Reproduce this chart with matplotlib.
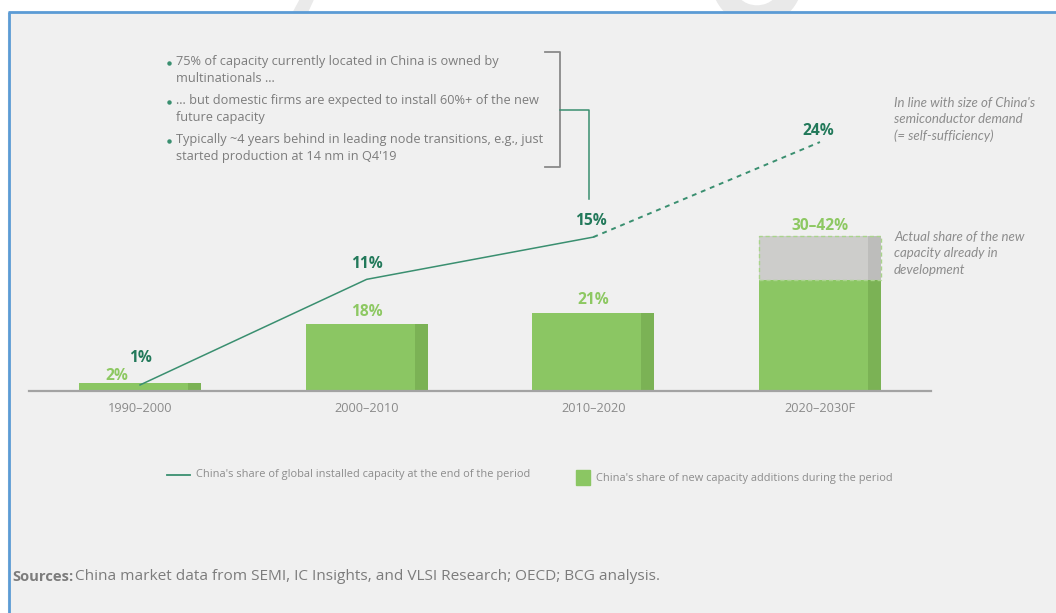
import matplotlib
matplotlib.use('Agg')
from matplotlib import pyplot as plt
from matplotlib.patches import Rectangle, Wedge, Polygon

# Periods on the x axis
periods: [str] = ['1990–2000', '2000–2010', '2010–2020', '2020–2030F']

# China's share of new capacity additions during the period (%)
new_share: [float] = [2, 18, 21, 30]
# Upper end of the forecast range for the last period (%)
new_share_high: float = 42
new_labels: [str] = ['2%', '18%', '21%', '30–42%']

# China's share of global installed capacity at the end of the period (%)
installed_share: [float] = [1, 11, 15, 24]
installed_labels: [str] = ['1%', '11%', '15%', '24%']

bullets: [[str]] = [
    ['75% of capacity currently located in China is owned by',
     'multinationals …'],
    ['… but domestic firms are expected to install 60%+ of the new',
     'future capacity'],
    ['Typically ~4 years behind in leading node transitions, e.g., just',
     "started production at 14 nm in Q4'19"],
]

note_top: [str] = ["In line with size of China's",
                   'semiconductor demand',
                   '(= self-sufficiency)']
note_bottom: [str] = ['Actual share of the new',
                      'capacity already in',
                      'development']

legend_line_text: str = "China's share of global installed capacity at the end of the period"
legend_bar_text: str = "China's share of new capacity additions during the period"
sources_text: str = 'China market data from SEMI, IC Insights, and VLSI Research; OECD; BCG analysis.'

# Colours
green = '#8bc663'
green_dark = '#7bb255'
grey_bar = '#cdcdcb'
grey_bar_dark = '#bdbdbb'
teal = '#3a8f70'
teal_text = '#22795a'
green_text = '#8dc862'
text_grey = '#7c7c7c'
note_grey = '#8c8c8c'
panel = '#f0f0f0'
border = '#5b9bd5'

W, H = 1056, 613
plt.rcParams['font.family'] = ['Open Sans', 'DejaVu Sans']

fig = plt.figure(figsize=(W / 100, H / 100), dpi=100)

# Full-figure layer in pixel coordinates for panel and annotations
bg = fig.add_axes([0, 0, 1, 1])
bg.set_xlim(0, W)
bg.set_ylim(H, 0)
bg.axis('off')

bg.add_patch(Wedge((757, -20), 45, 0, 360, width=19, color='#e9e9e9', zorder=0))
bg.add_patch(Polygon([(300, 0), (313, 0), (307, 13), (293, 13)], color='#eaeaea', zorder=0))
bg.add_patch(Rectangle((8, 12), W - 8, H - 12, color=panel, zorder=1))
bg.plot([8, W], [12, 12], color=border, lw=2, zorder=2, solid_capstyle='butt')
bg.plot([8.5, 8.5], [12, H], color=border, lw=2, zorder=2, solid_capstyle='butt')

# Bullet block with bracket
line_ys = [[62, 79], [100.7, 117], [140, 156.7]]
for lines, ys in zip(bullets, line_ys):
    bg.plot(168.5, ys[0] + 1, 'o', ms=2.2, color=teal, zorder=3)
    for txt, y in zip(lines, ys):
        bg.text(175.5, y, txt, fontsize=9.2, color=text_grey, va='center', ha='left', zorder=3)

bg.plot([545, 560, 560, 545], [52, 52, 166.5, 166.5], color='#8a8a8a', lw=1.3, zorder=3)
bg.plot([560, 588.5, 588.5], [110, 110, 199], color=teal, lw=1.1, zorder=3)

# Side notes
for i, txt in enumerate(note_top):
    bg.text(894, 102.7 + i * 16.3, txt, fontsize=9.5, style='italic', family=['Lato', 'DejaVu Sans'],
            color=note_grey, va='center', ha='left', zorder=3)
for i, txt in enumerate(note_bottom):
    bg.text(894, 236.7 + i * 16.7, txt, fontsize=9.5, style='italic', family=['Lato', 'DejaVu Sans'],
            color=note_grey, va='center', ha='left', zorder=3)

# Legend
bg.plot([167, 190], [475, 475], color=teal, lw=1.3, zorder=3)
bg.text(196, 475, legend_line_text, fontsize=7.9, color=note_grey, va='center', ha='left', zorder=3)
bg.add_patch(Rectangle((576, 470), 14, 15, color=green, zorder=3))
bg.text(596, 479, legend_bar_text, fontsize=7.9, color=note_grey, va='center', ha='left', zorder=3)

# Sources
bg.text(12, 577, 'Sources:', fontsize=10.6, fontweight='bold', color=text_grey, va='center', ha='left', zorder=3)
bg.text(75, 577, sources_text, fontsize=11.1, color=text_grey, va='center', ha='left', zorder=3)

# Chart area: baseline at y=390.5 px, spans x 29..931 px
base_px, top_px = 390.5, 100
ax = fig.add_axes([29 / W, (H - base_px) / H, (931 - 29) / W, (base_px - top_px) / H])
ax.set_facecolor('none')
ax.set_xlim(-0.49, 3.49)
ax.set_ylim(0, (base_px - top_px) / 3.667)

x = list(range(len(periods)))
bar_w = 122 / 226.67
strip_w = 13 / 226.67
strip_off = bar_w / 2 - strip_w / 2

ax.bar(x, new_share, width=bar_w, color=green, zorder=2)
ax.bar([i + strip_off for i in x], new_share, width=strip_w, color=green_dark, zorder=2)

# Forecast range on top of the last bar
extra = new_share_high - new_share[-1]
ax.bar(x[-1], extra, bottom=new_share[-1], width=bar_w, color=grey_bar, zorder=2)
ax.bar(x[-1] + strip_off, extra, bottom=new_share[-1], width=strip_w, color=grey_bar_dark, zorder=2)
ax.bar(x[-1], extra, bottom=new_share[-1], width=bar_w, fill=False, edgecolor='#a9d48c',
       linestyle=(0, (3, 2)), lw=1.0, zorder=3)

bar_tops = new_share[:-1] + [new_share_high]
bar_offsets = [(-23, 7), (0, 12), (0, 13.5), (0, 10)]
for xi, top, lab, off in zip(x, bar_tops, new_labels, bar_offsets):
    ax.annotate(lab, (xi, top), xytext=off, textcoords='offset pixels', ha='center', va='center',
                fontsize=11.2, fontweight='bold', color=green_text, annotation_clip=False)

ax.set_xticks(x)
ax.set_xticklabels(periods, fontsize=9.2, color='#8a8a8a')
ax.tick_params(axis='x', length=0, pad=8.5)
ax.set_yticks([])
for s in ['top', 'left', 'right']:
    ax.spines[s].set_visible(False)
ax.spines['bottom'].set_color('#a3a3a3')
ax.spines['bottom'].set_linewidth(1.6)

# Installed capacity share on its own scale (zero sits 5 px below the baseline)
ax2 = ax.twinx()
ax2.set_ylim(5 / 10.56, (395.5 - top_px) / 10.56)
ax2.axis('off')
ax2.plot(x[:3], installed_share[:3], color=teal, lw=1.1, zorder=4)
ax2.plot(x[2:], installed_share[2:], color=teal, lw=1.4, linestyle=(0, (2.5, 2.5)), zorder=4)

line_offsets = [(0, 27), (0, 15), (-2, 16), (-2, 11)]
for xi, val, lab, off in zip(x, installed_share, installed_labels, line_offsets):
    ax2.annotate(lab, (xi, val), xytext=off, textcoords='offset pixels', ha='center', va='center',
                 fontsize=11.2, fontweight='bold', color=teal_text, annotation_clip=False)

fig.savefig('out.png', dpi=100, facecolor='white')
